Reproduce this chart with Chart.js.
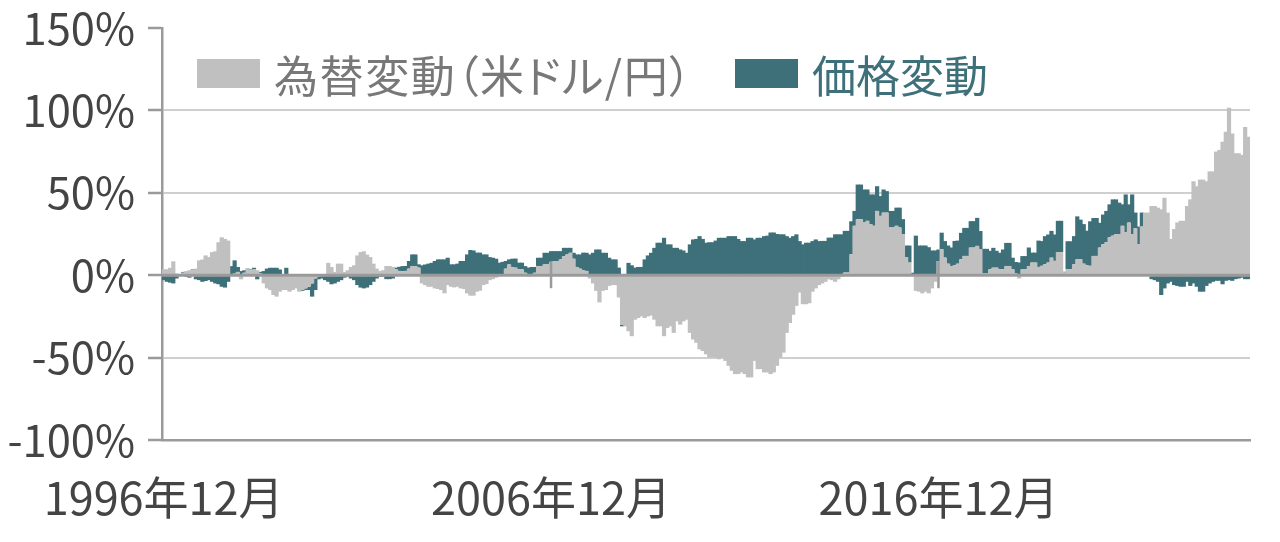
<!DOCTYPE html>
<html lang="ja">
<head>
<meta charset="utf-8">
<script src="https://cdn.jsdelivr.net/npm/chart.js@4.4.1/dist/chart.umd.min.js"></script>
<style>
  html, body { margin: 0; padding: 0; background: #fff; }
  #wrap { position: relative; width: 1280px; height: 542px; }
  .item {
    position: absolute; top: 59px; height: 29px;
    display: flex; align-items: center;
    font-family: "Noto Sans CJK JP", "Noto Sans", sans-serif; font-size: 44px;
    font-feature-settings: "palt";
    white-space: nowrap;
  }
  .sw { display: inline-block; width: 63px; height: 29px; margin-right: 14px; }
</style>
</head>
<body>
<div id="wrap">
  <canvas id="chart" width="1280" height="542"></canvas>
  <div class="item" style="left:197px; color:#787878; letter-spacing:1.6px"><span class="sw" style="background:#c0c0c0"></span>為替変動（米ドル/円）</div>
  <div class="item" style="left:735px; color:#3e707a"><span class="sw" style="background:#3e707a"></span>価格変動</div>
</div>
<script>
// monthly, 1996年12月 .. 2024年12月
const startYear = 1996, startMonth = 12, monthCount = 337;
const tickLabels = ['1996年12月', '2006年12月', '2016年12月'];
const yTicks = [-100, -50, 0, 50, 100, 150];

// 為替変動（米ドル/円） %
const fxChange = [
  3.6, 3.6, 4.5, 8.4, 1, 0.5, 1.5, 2.5, 3, 3,
  4, 9, 9.5, 12, 11, 14, 14.5, 20, 23, 22,
  21, 0.5, 1, 2, -2.5, 1.5, 3.5, 3, 3.5, 3,
  1, -5, -8, -9, -12, -13, -10, -9, -9, -10,
  -9, -8, -10, -9, -8, -7, -5, -2, -1, 0.5,
  0.5, 7.5, 5, 2, 7, 7, 2, 3, 5, 6,
  12, 14, 14.5, 12.5, 11, 7, 4, 2.5, 3, 5.6,
  5.6, 5, 3.6, 2.6, 2.5, 2.6, 4, 5.6, 5.6, 4.6,
  -5, -6, -7, -7, -8, -8.4, -9, -11, -6, -7,
  -7.4, -7, -8, -8.4, -11, -12.4, -12.4, -10, -9.4, -6,
  -5.4, -3, -2.4, -1.5, -0.5, 0.5, 4, 6.6, 5, 4.6,
  3.6, 3.6, 1.5, -1, 0.5, 1.5, 5.6, 5.6, 6.6, 6.6,
  8, 8.6, 8.6, 9.6, 11.6, 12.6, 13.6, 10, 5, 4,
  3, 2.6, -2, -5, -9.5, -16.5, -9.5, -9, -6.5, -6,
  -6, -13.5, -30, -31, -34, -37, -27, -26, -25, -26,
  -25, -24.5, -27, -31, -31, -37, -32, -31, -35, -28,
  -30, -28, -27, -35, -39, -41, -45, -46, -48, -50,
  -50, -50, -51, -50, -52, -55, -58, -60, -60, -59,
  -60, -62, -62, -52, -57, -57, -59, -59, -60, -59,
  -55, -50, -47, -35, -29, -24, -18.6, -10.5, -17.6, -17.6,
  -17, -10, -8, -6, -5, -4, -2.5, -3, -4, -2.5,
  -1, 1.6, 1.6, 12.7, 30, 34, 34, 32, 33, 31,
  30, 39, 36, 38, 38, 29, 29, 30, 29, 25,
  11, 7.7, 0.5, -9.5, -10, -11, -10, -11, -8, -4,
  8.6, 15.8, 10.7, 7, 5.6, 6, 7, 9.7, 11.7, 11.7,
  16.8, 16.8, 17.8, 15.8, 1, 1, 3.6, 4.6, 4.6, 3.6,
  3.6, 5.6, 5.6, 3.6, 1, -2, 3.6, 3.6, 5.6, 7.7,
  7.7, 5, 5.7, 6.7, 7.7, 10.7, 8.7, 14, 14, 1.6,
  3.6, 3.6, 6.7, 9.7, 9.7, 7, 6, 5.7, 11.7, 11.7,
  16.8, 18.8, 20, 23, 24, 25, 25, 30, 26, 32,
  25, 28.5, 18.8, 29.5, 38, 38, 42, 42, 41, 40,
  47, 38, 22, 28, 32, 33, 33, 42, 46, 57,
  54, 58, 58, 57, 63, 63, 75, 76, 81, 87,
  101.6, 86, 74, 74, 73, 90, 84
];

// 価格変動 %
const priceChange = [
  -3, -4, -4.5, -5, -2, -0.5, 0.5, -1, -1.5, 0.5,
  -2.5, -3, -4, -3.5, -3, -4, -5, -5.5, -7, -7.5,
  -4, 5, 8, 3, 2.5, 1.5, 0.5, 0.5, 1, -2.5,
  1, 2.5, 4, 4.5, 4.5, 4.5, 3.5, 0.5, 4.5, 0.5,
  0.5, 0.5, 0.3, -0.5, -1, -2, -8, -7, -1.5, -2,
  -3, -4, -5.5, -5, -4, -3, -1.5, -1, -2, -3,
  -6, -7.5, -8, -7.5, -6, -4, -2, -1, -1, -2.4,
  -2.4, -2, 1, 2.5, 3, 3, 4.6, 7, 7, 2,
  6, 6.5, 7, 7.5, 8.6, 9.6, 9.6, 9.6, 10.6, 6.6,
  6.6, 7, 8.6, 8.6, 12.6, 15.3, 15, 13.7, 13.7, 12.6,
  12.6, 11, 10.6, 10, 7.6, 7.6, 4.6, 3, 5, 5.5,
  4, 4, 4, 4.6, 4.5, 3.5, 5, 5, 7, 7,
  6.6, 6, 6, 5, 5, 4, 3, 3.6, 7.6, 8.6,
  10.7, 11, 12.6, 13.6, 15.6, 15.6, 13.6, 13.6, 10.6, 9.6,
  9.6, 4.6, -1, 0.3, 7.5, 6, 4.6, 5, 5, 9.6,
  12, 13.6, 16.6, 19.7, 19.7, 22.7, 18.7, 18.7, 16.6, 16.6,
  15.6, 15, 13.6, 18.7, 21.7, 22, 23.7, 22, 19.7, 20,
  20, 21, 22.7, 22.7, 22.7, 23.7, 23.7, 23.7, 22, 20.7,
  20.7, 22.7, 22.7, 21.7, 22.7, 22.7, 23.7, 24, 25.9, 25.9,
  25, 24.8, 24.8, 23.7, 22.7, 23.7, 24.8, 20.7, 18.7, 19.7,
  19.7, 20.7, 21.7, 20.7, 20.8, 20.8, 22.8, 22.8, 24.8, 24.8,
  24.8, 25.3, 25.3, 20, 9, 21, 21, 20, 19, 18,
  19, 15, 12, 14, 13, 10, 10, 11, 12, 9,
  7, 10.3, 1, 24, 18, 18, 18, 17, 15, 15,
  7, 10, 10, 11, 11.2, 14.8, 14, 16, 17, 17,
  16, 16, 17, 11, 15, 15, 11.2, 12, 10.2, 10,
  12, 14, 14, 7, 7, 7.7, 8, 8, 11.2, 6,
  6, 16, 15, 17, 17, 16.2, 16, 19, 19, 0.5,
  17, 17, 17, 26, 24, 24, 21, 27, 23, 23,
  15, 18, 19, 20, 22, 21, 19, 13, 23, 11,
  24, 9.5, 10.7, 8.5, 0, 0, -2.4, -3, -4, -12,
  -8, -5, -4, -6, -6.5, -7, -7, -4, -6.5, -5,
  -7, -10, -10, -6.5, -5, -4, -3.4, -3.4, -5.5, -3.4,
  -3, -3.4, -2.4, -2, -1.5, -2.4, -2.4
];

const months = [];
for (let i = 0; i < monthCount; i++) {
  const m = (startMonth - 1 + i) % 12 + 1;
  const y = startYear + Math.floor((startMonth - 1 + i) / 12);
  months.push(`${y}年${m}月`);
}

const axisGray = '#9a9a9a';
const gridGray = '#cfcfcf';
const textGray = '#444444';
const font = '"Noto Sans CJK JP", "Noto Sans", sans-serif';

// zero line and category tick marks drawn over the bars
const zeroLinePlugin = {
  id: 'zeroLine',
  afterDatasetsDraw(chart) {
    const { ctx, chartArea, scales } = chart;
    const y0 = scales.y.getPixelForValue(0);
    ctx.save();
    ctx.strokeStyle = axisGray;
    ctx.lineWidth = 3;
    ctx.beginPath();
    ctx.moveTo(chartArea.left, y0);
    ctx.lineTo(chartArea.right, y0);
    ctx.stroke();
    ctx.lineWidth = 2.5;
    tickLabels.slice(1).forEach(lbl => {
      const x = scales.x.getPixelForValue(months.indexOf(lbl));
      ctx.beginPath();
      ctx.moveTo(x, y0 - 14);
      ctx.lineTo(x, y0 + 13);
      ctx.stroke();
    });
    ctx.restore();
  }
};

new Chart(document.getElementById('chart'), {
  type: 'bar',
  data: {
    labels: months,
    datasets: [
      { label: '為替変動（米ドル/円）', data: fxChange, backgroundColor: '#c0c0c0' },
      { label: '価格変動', data: priceChange, backgroundColor: '#3e707a' }
    ]
  },
  options: {
    responsive: false,
    animation: false,
    layout: { padding: { top: 28, right: 30, bottom: 0, left: 0 } },
    datasets: { bar: { categoryPercentage: 1, barPercentage: 1.3, borderWidth: 0 } },
    plugins: { legend: { display: false }, tooltip: { enabled: false } },
    scales: {
      x: {
        stacked: true,
        grid: { display: false, drawTicks: false },
        border: { display: true, color: axisGray, width: 2.5 },
        afterFit: s => { s.height = 102; },
        ticks: {
          autoSkip: false, maxRotation: 0, minRotation: 0, padding: 31,
          color: textGray, font: { family: font, size: 45 },
          callback: (v, i) => tickLabels.includes(months[i]) ? months[i] : ''
        }
      },
      y: {
        stacked: true,
        min: -100, max: 150,
        afterFit: s => { s.width = 162; s.paddingTop = 0; s.paddingBottom = 0; },
        afterBuildTicks: s => { s.ticks = yTicks.map(v => ({ value: v })); },
        grid: {
          color: c => (c.tick.value === 0 || c.tick.value === 150 || c.tick.value === -100) ? 'rgba(0,0,0,0)' : gridGray,
          lineWidth: 2,
          tickLength: 14,
          tickColor: axisGray,
          tickWidth: 2.5
        },
        border: { display: true, color: axisGray, width: 2.5 },
        ticks: {
          padding: 13, color: textGray, font: { family: font, size: 43.5 },
          callback: v => v + '%'
        }
      }
    }
  },
  plugins: [zeroLinePlugin]
});
</script>
</body>
</html>
